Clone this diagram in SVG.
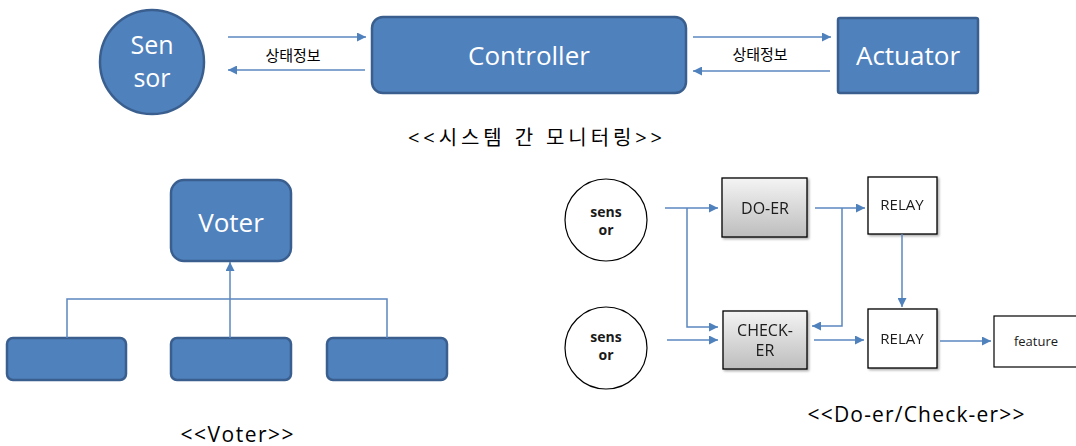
<svg xmlns="http://www.w3.org/2000/svg" width="1076" height="446" viewBox="0 0 1076 446">
  <style>
    .blue { fill: #4f81bd; stroke: #3a5f8f; stroke-width: 2.5; }
    .wt { fill: #ffffff; font-family: "Open Sans", "Noto Sans", sans-serif; text-anchor: middle; }
    .lbl { fill: #000000; font-family: "Noto Sans CJK KR", "Noto Sans", sans-serif; text-anchor: middle; }
    .cap { fill: #000000; font-family: "Open Sans", "Noto Sans CJK KR", sans-serif; text-anchor: middle; }
    .dk { fill: #1a1a1a; font-family: "Open Sans", "Noto Sans", sans-serif; text-anchor: middle; }
    .ln { fill: none; stroke: #5b87c0; stroke-width: 1.5; }
    .box { stroke: #000000; stroke-width: 1.3; }
  </style>
  <defs>
    <marker id="ah" viewBox="0 0 10 10" refX="10" refY="5" markerWidth="12" markerHeight="9" markerUnits="userSpaceOnUse" orient="auto">
      <path d="M0,0 L10,5 L0,10 z" fill="#4f81bd"/>
    </marker>
    <linearGradient id="gray" x1="0" y1="0" x2="0" y2="1">
      <stop offset="0" stop-color="#f4f4f4"/>
      <stop offset="1" stop-color="#bdbdbd"/>
    </linearGradient>
    <filter id="sh" x="-10%" y="-10%" width="130%" height="130%">
      <feDropShadow dx="1.5" dy="1.5" stdDeviation="1" flood-color="#000000" flood-opacity="0.35"/>
    </filter>
  </defs>

  <!-- system monitoring row -->
  <g id="sensor">
    <circle class="blue" cx="152" cy="62" r="52"/>
    <text class="wt" x="152" y="54" font-size="25">Sen</text>
    <text class="wt" x="152" y="87" font-size="25">sor</text>
  </g>
  <g id="controller">
    <rect class="blue" x="372" y="17" width="314" height="76" rx="11"/>
    <text class="wt" x="529" y="65" font-size="26">Controller</text>
  </g>
  <g id="actuator">
    <rect class="blue" x="838" y="18" width="140" height="75" rx="2"/>
    <text class="wt" x="908" y="65" font-size="26">Actuator</text>
  </g>
  <text class="lbl" x="293" y="61" font-size="15">상태정보</text>
  <text class="lbl" x="760" y="60" font-size="15">상태정보</text>
  <text class="cap" x="535" y="145" font-size="20" textLength="254" lengthAdjust="spacing">&lt;&lt;시스템 간 모니터링&gt;&gt;</text>

  <!-- voter -->
  <g id="voter">
    <rect class="blue" x="171" y="180" width="120" height="81" rx="13"/>
    <text class="wt" x="231" y="232" font-size="26">Voter</text>
  </g>
  <g id="input-1"><rect class="blue" x="7" y="338" width="119" height="42" rx="6"/></g>
  <g id="input-2"><rect class="blue" x="171" y="338" width="120" height="42" rx="6"/></g>
  <g id="input-3"><rect class="blue" x="327" y="338" width="120" height="42" rx="6"/></g>
  <text class="cap" x="237" y="442" font-size="21" textLength="113" lengthAdjust="spacing">&lt;&lt;Voter&gt;&gt;</text>

  <!-- do-er / check-er -->
  <g id="sensor-a">
    <circle cx="606" cy="220" r="41" fill="#ffffff" stroke="#000000" stroke-width="1.2"/>
    <text class="dk" x="606" y="217" font-size="14" font-weight="bold">sens</text>
    <text class="dk" x="606" y="235" font-size="14" font-weight="bold">or</text>
  </g>
  <g id="sensor-b">
    <circle cx="606" cy="348" r="41" fill="#ffffff" stroke="#000000" stroke-width="1.2"/>
    <text class="dk" x="606" y="342" font-size="14" font-weight="bold">sens</text>
    <text class="dk" x="606" y="360" font-size="14" font-weight="bold">or</text>
  </g>
  <g id="do-er" filter="url(#sh)">
    <rect class="box" x="722" y="178" width="85" height="59" fill="url(#gray)"/>
    <text class="dk" x="765" y="214" font-size="16">DO-ER</text>
  </g>
  <g id="check-er" filter="url(#sh)">
    <rect class="box" x="723" y="311" width="84" height="58" fill="url(#gray)"/>
    <text class="dk" x="765" y="336" font-size="16">CHECK-</text>
    <text class="dk" x="765" y="356" font-size="16">ER</text>
  </g>
  <g id="relay-1" filter="url(#sh)">
    <rect class="box" x="868" y="177" width="69" height="57" fill="#ffffff"/>
    <text class="dk" x="902" y="210" font-size="15">RELAY</text>
  </g>
  <g id="relay-2" filter="url(#sh)">
    <rect class="box" x="868" y="309" width="69" height="59" fill="#ffffff"/>
    <text class="dk" x="902" y="344" font-size="15">RELAY</text>
  </g>
  <g id="feature">
    <rect x="994" y="316" width="90" height="51" fill="#ffffff" stroke="#000000" stroke-width="1.2"/>
    <text class="dk" x="1036" y="346" font-size="13">feature</text>
  </g>
  <text class="cap" x="916" y="422" font-size="21" textLength="217" lengthAdjust="spacing">&lt;&lt;Do-er/Check-er&gt;&gt;</text>

  <g id="connectors">
    <!-- monitoring -->
    <line class="ln" x1="228" y1="37" x2="366" y2="37" marker-end="url(#ah)"/>
    <line class="ln" x1="365" y1="70" x2="228" y2="70" marker-end="url(#ah)"/>
    <line class="ln" x1="693" y1="37" x2="831" y2="37" marker-end="url(#ah)"/>
    <line class="ln" x1="830" y1="71" x2="693" y2="71" marker-end="url(#ah)"/>
    <!-- voter -->
    <polyline class="ln" points="67,338 67,299 387,299 387,338"/>
    <line class="ln" x1="230" y1="338" x2="230" y2="262" stroke-width="2" marker-end="url(#ah)"/>
    <!-- do-er / check-er -->
    <line class="ln" x1="665" y1="208" x2="718" y2="208" marker-end="url(#ah)"/>
    <polyline class="ln" points="687,208 687,327 718,327" marker-end="url(#ah)"/>
    <line class="ln" x1="667" y1="340" x2="718" y2="340" marker-end="url(#ah)"/>
    <line class="ln" x1="815" y1="208" x2="865" y2="208" marker-end="url(#ah)"/>
    <polyline class="ln" points="842,208 842,326 812,326" marker-end="url(#ah)"/>
    <line class="ln" x1="814" y1="340" x2="864" y2="340" marker-end="url(#ah)"/>
    <line class="ln" x1="902" y1="234" x2="902" y2="307" marker-end="url(#ah)"/>
    <line class="ln" x1="940" y1="341" x2="991" y2="341" marker-end="url(#ah)"/>
  </g>
</svg>
